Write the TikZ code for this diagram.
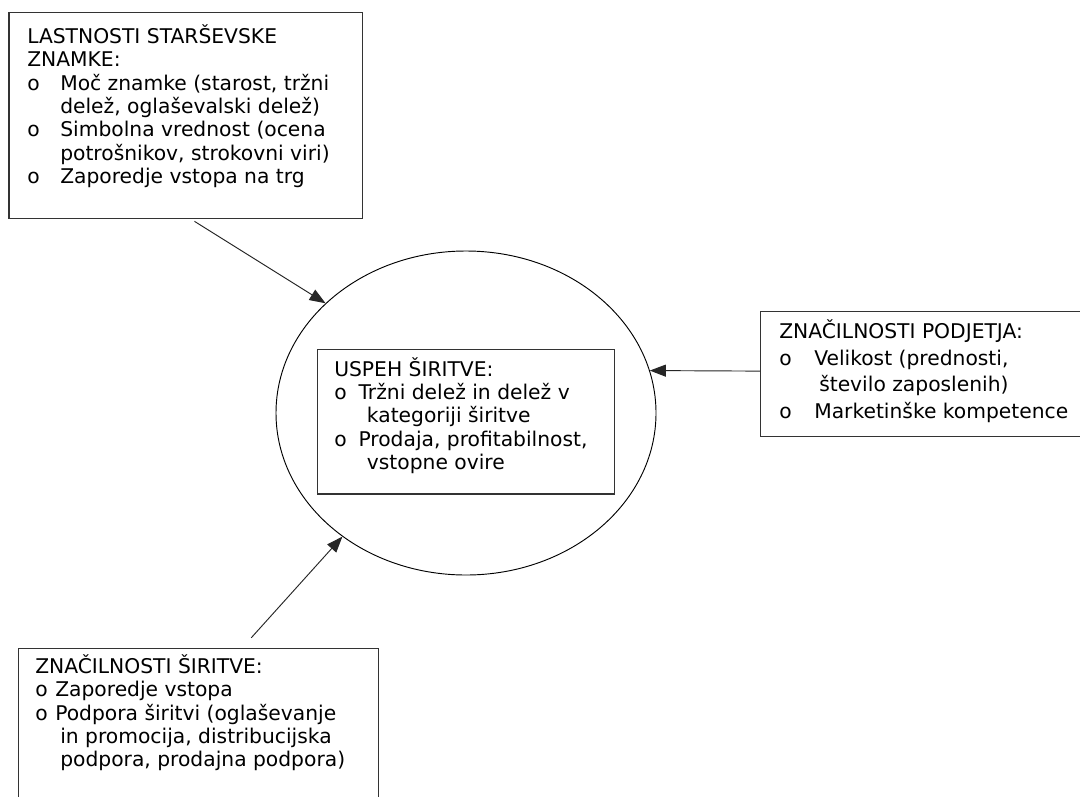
\documentclass[tikz,border=0pt]{standalone}
\usepackage{fontspec}
\setmainfont{DejaVu Sans}
\usetikzlibrary{shapes.geometric,arrows.meta,fit,calc}
\newcommand\mystrut{\rule{0pt}{15pt}}
\newcommand\boxfont{\fontsize{15.2}{17.5}\selectfont\lineskiplimit-100pt\relax}
\newcommand\wideboxfont{\fontsize{15.2}{20}\selectfont\lineskiplimit-100pt\relax}
\begin{document}
\begin{tikzpicture}[x=0.75pt,y=-0.75pt,
  frame/.style={draw=black!80, line width=0.8pt, inner sep=0pt},
  oval/.style={draw=black, line width=0.7pt, ellipse, inner sep=0pt},
  txt/.style={anchor=north west, inner sep=0pt, align=left, font=\boxfont},
  arr/.style={draw=black!85, line width=0.7pt, -{Triangle[length=12pt,width=9pt]}}]
\path[use as bounding box, fill=white] (0,0) rectangle (1080,796);

% boxes
\node[frame, fit={(9,12.7)(362.7,218.3)}] (A) {};
\node[frame, fit={(760.7,311.5)(1095,436.7)}] (C) {};
\node[frame, fit={(18.3,648.3)(378.5,810)}] (D) {};
\node[oval, minimum width=285pt, minimum height=243pt] (E) at (466,413) {};
\node[frame, fit={(317.3,349.3)(614.3,494)}] (B) {};

% texts
\node[txt] (At) at (27,23.3) {\mystrut LASTNOSTI STARŠEVSKE\\
ZNAMKE:\\
\makebox[24.75pt][l]{o}Moč znamke (starost, tržni\\
\hspace*{24.75pt}delež, oglaševalski delež)\\
\makebox[24.75pt][l]{o}Simbolna vrednost (ocena\\
\hspace*{24.75pt}potrošnikov, strokovni viri)\\
\makebox[24.75pt][l]{o}Zaporedje vstopa na trg};

\node[txt] (Bt) at (334,356) {\mystrut USPEH ŠIRITVE:\\
\makebox[18.2pt][l]{o}Tržni delež in delež v\\
\hspace*{24.5pt}kategoriji širitve\\
\makebox[18.2pt][l]{o}Prodaja, profitabilnost,\\
\hspace*{24.5pt}vstopne ovire};

\node[txt, font=\wideboxfont] (Ct) at (779,318.3) {\mystrut ZNAČILNOSTI PODJETJA:\\
\makebox[26.25pt][l]{o}Velikost (prednosti,\\
\hspace*{30pt}število zaposlenih)\\
\makebox[26.25pt][l]{o}Marketinške kompetence};

\node[txt] (Dt) at (35,653.3) {\mystrut ZNAČILNOSTI ŠIRITVE:\\
\makebox[15pt][l]{o}Zaporedje vstopa\\
\makebox[15pt][l]{o}Podpora širitvi (oglaševanje\\
\hspace*{18.75pt}in promocija, distribucijska\\
\hspace*{18.75pt}podpora, prodajna podpora)};

% connectors
\draw[arr] ($(A.south west)+(186,2.5)$) -- (E.142);
\draw[arr] ($(C.west)+(0,-3)$) -- (E.13);
\draw[arr] ($(D.north west)+(233.5,-10)$) -- (E.225);
\end{tikzpicture}
\end{document}
